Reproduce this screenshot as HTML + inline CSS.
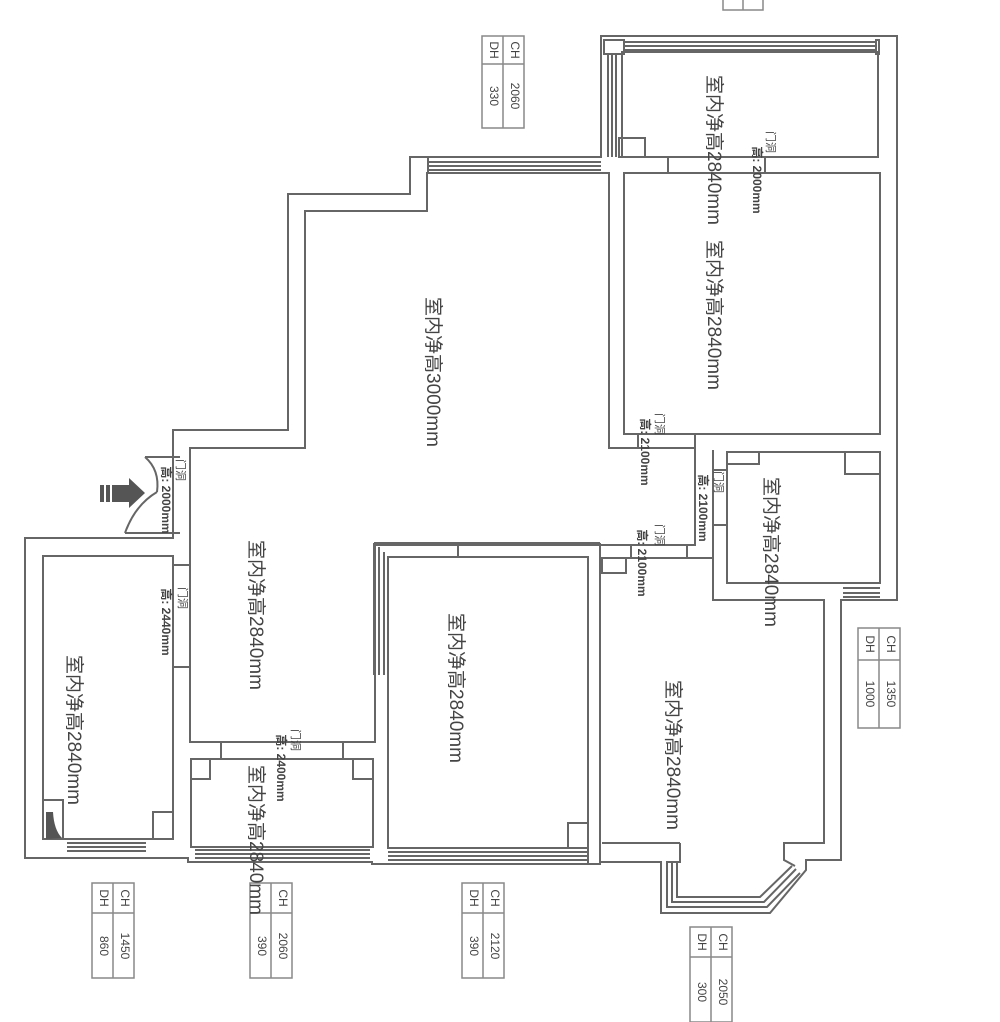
<!DOCTYPE html>
<html><head><meta charset="utf-8"><style>
html,body{margin:0;padding:0;background:#fff;}
svg{display:block;}
text{font-family:"Liberation Sans","Noto Sans CJK SC",sans-serif;fill:#444;}
</style></head><body>
<svg width="1000" height="1022" viewBox="0 0 1000 1022" xmlns="http://www.w3.org/2000/svg">
<g fill="none" stroke="#666" stroke-width="2">
<path d="M601,36 H897 V600 H841 V860 H806 V870 L770,913 H661 V862 H600 V864 H372 V862 H188 V858 H25 V538 H173 V430 H288 V194 H410 V157 H601 Z" fill="#fff"/>
<path d="M622,52 H878 V157 H622 Z"/>
<rect x="619" y="138" width="26" height="19"/>
<rect x="604" y="40" width="20" height="14"/>
<rect x="876" y="40" width="3" height="14"/>
<line x1="624" y1="42" x2="876" y2="42"/><line x1="624" y1="46" x2="876" y2="46"/><line x1="624" y1="50" x2="876" y2="50"/>
<line x1="608" y1="54" x2="608" y2="157"/><line x1="612" y1="54" x2="612" y2="157"/><line x1="616" y1="54" x2="616" y2="157"/>
<line x1="668" y1="157" x2="668" y2="173"/><line x1="765" y1="157" x2="765" y2="173"/>
<rect x="624" y="173" width="256" height="261"/>
<path d="M427,173 H609 V448 H695 V545 H375 V742 H190 V448 H305 V211 H427 Z"/>
<line x1="429" y1="162" x2="601" y2="162"/><line x1="429" y1="166" x2="601" y2="166"/><line x1="429" y1="170" x2="601" y2="170"/>
<line x1="428" y1="157" x2="428" y2="173"/>
<line x1="638" y1="434" x2="638" y2="448"/><line x1="695" y1="434" x2="695" y2="450"/>
<rect x="727" y="452" width="153" height="131"/>
<rect x="727" y="452" width="32" height="12"/>
<rect x="845" y="452" width="35" height="22"/>
<line x1="713" y1="470" x2="727" y2="470"/><line x1="713" y1="525" x2="727" y2="525"/>
<line x1="713" y1="450" x2="713" y2="600"/>
<line x1="843" y1="588" x2="880" y2="588"/><line x1="843" y1="593" x2="880" y2="593"/><line x1="843" y1="597" x2="880" y2="597"/>
<path d="M602,558 H713 V600 H824 V843 H784 V860 L795,866 M680,843 H602 Z"/>
<path d="M680,843 V862 H667 V907 H767 L800,873"/>
<path d="M672,862 V902 H764 L796,869"/>
<path d="M677,862 V897 H760 L792,866"/>
<rect x="602" y="558" width="24" height="15"/>
<line x1="631" y1="545" x2="631" y2="558"/><line x1="687" y1="545" x2="687" y2="558"/>
<rect x="388" y="557" width="200" height="291"/>
<rect x="568" y="823" width="20" height="25"/>
<line x1="374" y1="543" x2="374" y2="675"/><line x1="379" y1="547" x2="379" y2="675"/><line x1="384" y1="552" x2="384" y2="675"/>
<line x1="374" y1="543" x2="600" y2="543"/>
<line x1="458" y1="545" x2="458" y2="557"/>
<line x1="388" y1="852" x2="588" y2="852"/><line x1="388" y1="856" x2="588" y2="856"/><line x1="388" y1="860" x2="588" y2="860"/>
<line x1="588" y1="557" x2="588" y2="864"/><line x1="600" y1="543" x2="600" y2="864"/>
<rect x="191" y="759" width="182" height="88"/>
<rect x="191" y="759" width="19" height="20"/>
<rect x="353" y="759" width="20" height="20"/>
<line x1="221" y1="742" x2="221" y2="759"/><line x1="343" y1="742" x2="343" y2="759"/>
<line x1="195" y1="850" x2="370" y2="850"/><line x1="195" y1="854" x2="370" y2="854"/><line x1="195" y1="858" x2="370" y2="858"/>
<rect x="43" y="556" width="130" height="283"/>
<rect x="153" y="812" width="20" height="27"/>
<rect x="43" y="800" width="20" height="39"/>
<line x1="173" y1="565" x2="190" y2="565"/><line x1="173" y1="667" x2="190" y2="667"/>
<line x1="67" y1="843" x2="146" y2="843"/><line x1="67" y1="847" x2="146" y2="847"/><line x1="67" y1="851" x2="146" y2="851"/>
<line x1="145" y1="457" x2="180" y2="457"/><line x1="125" y1="533" x2="180" y2="533"/>
<path d="M145,457 Q160,470 157,492"/>
<path d="M125,533 Q135,505 157,492"/>
</g>
<path d="M46,839 L46,812 L53,812 Q54,830 62,838 Z" fill="#555"/>
<path d="M100,485 H104 V502 H100 Z M106,485 H110 V502 H106 Z M112,485 H129 V478 L145,493 L129,508 V502 H112 Z" fill="#555"/>
<g fill="#fff" stroke="#888" stroke-width="1.5">
<rect x="482" y="36" width="42" height="92"/><line x1="503" y1="36" x2="503" y2="128"/><line x1="482" y1="64" x2="524" y2="64"/>
<rect x="858" y="628" width="42" height="100"/><line x1="879" y1="628" x2="879" y2="728"/><line x1="858" y1="660" x2="900" y2="660"/>
<rect x="92" y="883" width="42" height="95"/><line x1="113" y1="883" x2="113" y2="978"/><line x1="92" y1="913" x2="134" y2="913"/>
<rect x="250" y="883" width="42" height="95"/><line x1="271" y1="883" x2="271" y2="978"/><line x1="250" y1="913" x2="292" y2="913"/>
<rect x="462" y="883" width="42" height="95"/><line x1="483" y1="883" x2="483" y2="978"/><line x1="462" y1="913" x2="504" y2="913"/>
<rect x="690" y="927" width="42" height="95"/><line x1="711" y1="927" x2="711" y2="1022"/><line x1="690" y1="957" x2="732" y2="957"/>
<rect x="723" y="-2" width="40" height="12"/><line x1="743" y1="0" x2="743" y2="10"/>
</g>
<g font-size="19" style="fill:#555">
<text transform="translate(713,150) rotate(90)" text-anchor="middle" dominant-baseline="middle">室内净高2840mm</text>
<text transform="translate(713,315) rotate(90)" text-anchor="middle" dominant-baseline="middle">室内净高2840mm</text>
<text transform="translate(432,372) rotate(90)" text-anchor="middle" dominant-baseline="middle">室内净高3000mm</text>
<text transform="translate(770,552) rotate(90)" text-anchor="middle" dominant-baseline="middle">室内净高2840mm</text>
<text transform="translate(672,755) rotate(90)" text-anchor="middle" dominant-baseline="middle">室内净高2840mm</text>
<text transform="translate(455,688) rotate(90)" text-anchor="middle" dominant-baseline="middle">室内净高2840mm</text>
<text transform="translate(255,615) rotate(90)" text-anchor="middle" dominant-baseline="middle">室内净高2840mm</text>
<text transform="translate(73,730) rotate(90)" text-anchor="middle" dominant-baseline="middle">室内净高2840mm</text>
<text transform="translate(255,840) rotate(90)" text-anchor="middle" dominant-baseline="middle">室内净高2840mm</text>
</g>
<g font-size="11">
<text transform="translate(770,142) rotate(90)" text-anchor="middle" dominant-baseline="middle">门洞</text>
<text transform="translate(756,180) rotate(90)" text-anchor="middle" dominant-baseline="middle" font-size="12" font-weight="bold">高: 2000mm</text>
<text transform="translate(659,424) rotate(90)" text-anchor="middle" dominant-baseline="middle">门洞</text>
<text transform="translate(644,452) rotate(90)" text-anchor="middle" dominant-baseline="middle" font-size="12" font-weight="bold">高: 2100mm</text>
<text transform="translate(718,482) rotate(90)" text-anchor="middle" dominant-baseline="middle">门洞</text>
<text transform="translate(702,508) rotate(90)" text-anchor="middle" dominant-baseline="middle" font-size="12" font-weight="bold">高: 2100mm</text>
<text transform="translate(659,535) rotate(90)" text-anchor="middle" dominant-baseline="middle">门洞</text>
<text transform="translate(641,563) rotate(90)" text-anchor="middle" dominant-baseline="middle" font-size="12" font-weight="bold">高: 2100mm</text>
<text transform="translate(180,470) rotate(90)" text-anchor="middle" dominant-baseline="middle">门洞</text>
<text transform="translate(165,500) rotate(90)" text-anchor="middle" dominant-baseline="middle" font-size="12" font-weight="bold">高: 2000mm</text>
<text transform="translate(182,598) rotate(90)" text-anchor="middle" dominant-baseline="middle">门洞</text>
<text transform="translate(165,622) rotate(90)" text-anchor="middle" dominant-baseline="middle" font-size="12" font-weight="bold">高: 2440mm</text>
<text transform="translate(295,740) rotate(90)" text-anchor="middle" dominant-baseline="middle">门洞</text>
<text transform="translate(280,768) rotate(90)" text-anchor="middle" dominant-baseline="middle" font-size="12" font-weight="bold">高: 2400mm</text>
</g>
<g font-size="12">
<text transform="translate(514,50) rotate(90)" text-anchor="middle" dominant-baseline="middle" fill="#888">CH</text>
<text transform="translate(493,50) rotate(90)" text-anchor="middle" dominant-baseline="middle" fill="#888">DH</text>
<text transform="translate(514,96) rotate(90)" text-anchor="middle" dominant-baseline="middle">2060</text>
<text transform="translate(493,96) rotate(90)" text-anchor="middle" dominant-baseline="middle">330</text>
<text transform="translate(890,644) rotate(90)" text-anchor="middle" dominant-baseline="middle" fill="#888">CH</text>
<text transform="translate(869,644) rotate(90)" text-anchor="middle" dominant-baseline="middle" fill="#888">DH</text>
<text transform="translate(890,694) rotate(90)" text-anchor="middle" dominant-baseline="middle">1350</text>
<text transform="translate(869,694) rotate(90)" text-anchor="middle" dominant-baseline="middle">1000</text>
<text transform="translate(124,898) rotate(90)" text-anchor="middle" dominant-baseline="middle" fill="#888">CH</text>
<text transform="translate(103,898) rotate(90)" text-anchor="middle" dominant-baseline="middle" fill="#888">DH</text>
<text transform="translate(124,946) rotate(90)" text-anchor="middle" dominant-baseline="middle">1450</text>
<text transform="translate(103,946) rotate(90)" text-anchor="middle" dominant-baseline="middle">860</text>
<text transform="translate(282,898) rotate(90)" text-anchor="middle" dominant-baseline="middle" fill="#888">CH</text>
<text transform="translate(282,946) rotate(90)" text-anchor="middle" dominant-baseline="middle">2060</text>
<text transform="translate(261,946) rotate(90)" text-anchor="middle" dominant-baseline="middle">390</text>
<text transform="translate(494,898) rotate(90)" text-anchor="middle" dominant-baseline="middle" fill="#888">CH</text>
<text transform="translate(473,898) rotate(90)" text-anchor="middle" dominant-baseline="middle" fill="#888">DH</text>
<text transform="translate(494,946) rotate(90)" text-anchor="middle" dominant-baseline="middle">2120</text>
<text transform="translate(473,946) rotate(90)" text-anchor="middle" dominant-baseline="middle">390</text>
<text transform="translate(722,942) rotate(90)" text-anchor="middle" dominant-baseline="middle" fill="#888">CH</text>
<text transform="translate(701,942) rotate(90)" text-anchor="middle" dominant-baseline="middle" fill="#888">DH</text>
<text transform="translate(722,992) rotate(90)" text-anchor="middle" dominant-baseline="middle">2050</text>
<text transform="translate(701,992) rotate(90)" text-anchor="middle" dominant-baseline="middle">300</text>
</g>
</svg>
</body></html>
